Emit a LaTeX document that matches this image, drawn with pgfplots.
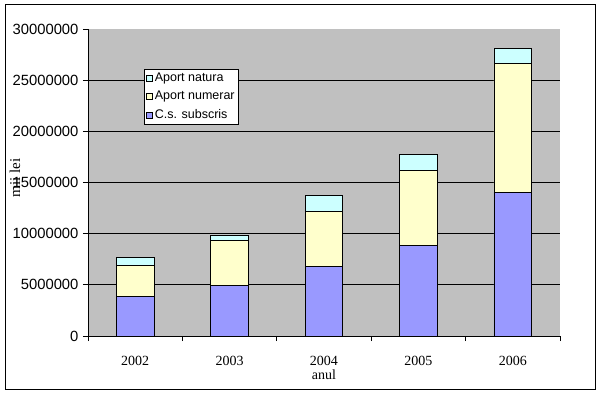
\documentclass[border=0pt]{standalone}
\usepackage{fontspec}
\setmainfont{Liberation Serif}
\newfontfamily\arial{Liberation Sans}
\usepackage{pgfplots}
\pgfplotsset{compat=1.18}
\definecolor{cspurple}{HTML}{9999FF}
\definecolor{numyellow}{HTML}{FFFFCC}
\definecolor{natcyan}{HTML}{CCFFFF}
\definecolor{plotgray}{HTML}{C0C0C0}
\begin{document}
\begin{tikzpicture}[x=1pt,y=1pt]
\path[use as bounding box,fill=white] (0,0) rectangle (602,396);
\draw[black,line width=1pt] (5,6) rectangle (595,391);
\begin{axis}[
  at={(88pt,60pt)}, anchor=south west,
  scale only axis, width=472pt, height=307pt,
  ybar stacked, bar width=0.4,
  xmin=-0.5, xmax=4.5, ymin=0, ymax=30000000,
  axis background/.style={fill=plotgray},
  axis x line*=bottom, axis y line*=left,
  axis line style={-,black,line width=0.8pt},
  xtick={0,1,2,3,4},
  xticklabels={2002,2003,2004,2005,2006},
  major x tick style={draw=none},
  minor xtick={-0.5,0.5,1.5,2.5,3.5,4.5},
  minor x tick style={black,line width=0.8pt},
  minor tick length=5pt,
  major tick length=5pt,
  tick align=outside,
  ytick={0,5000000,10000000,15000000,20000000,25000000},
  yticklabels={0,5000000,10000000,15000000,20000000,25000000},
  extra y ticks={30000000},
  extra y tick labels={30000000},
  extra y tick style={grid=none},
  scaled y ticks=false,
  ymajorgrids,
  grid style={black,line width=0.8pt},
  y tick style={black,line width=0.8pt},
  yticklabel style={font=\arial\fontsize{14.8}{16}\selectfont, xshift=-1pt},
  xticklabel style={font=\fontsize{14}{16}\selectfont, yshift=-12pt},
  xlabel={anul},
  xlabel style={at={(rel axis cs:0.5,-0.1433)}, anchor=base, font=\fontsize{14}{16}\selectfont},
  ylabel={mii lei},
  ylabel style={at={(rel axis cs:-0.1547,0.5147)}, anchor=center, rotate=0, font=\fontsize{15}{16}\selectfont},
  reverse legend,
  legend style={at={(rel axis cs:0.1186,0.8697)}, anchor=north west,
    draw=black, fill=white, line width=0.6pt,
    font=\arial\fontsize{12.5}{13}\selectfont,
    legend cell align=left, row sep=4pt, inner sep=2pt},
  legend image code/.code={\draw[#1,line width=0.5pt] (2pt,-3pt) rectangle (8pt,3pt);},
  every axis plot/.append style={draw=black, line width=0.8pt},
]
\addplot[fill=cspurple] coordinates {(0,3880000) (1,4950000) (2,6810000) (3,8860000) (4,14050000)};
\addlegendentry{C.s. subscris}
\addplot[fill=numyellow] coordinates {(0,3030000) (1,4400000) (2,5380000) (3,7340000) (4,12610000)};
\addlegendentry{Aport numerar}
\addplot[fill=natcyan] coordinates {(0,780000) (1,520000) (2,1560000) (3,1560000) (4,1460000)};
\addlegendentry{Aport natura}
\end{axis}
\end{tikzpicture}
\end{document}
